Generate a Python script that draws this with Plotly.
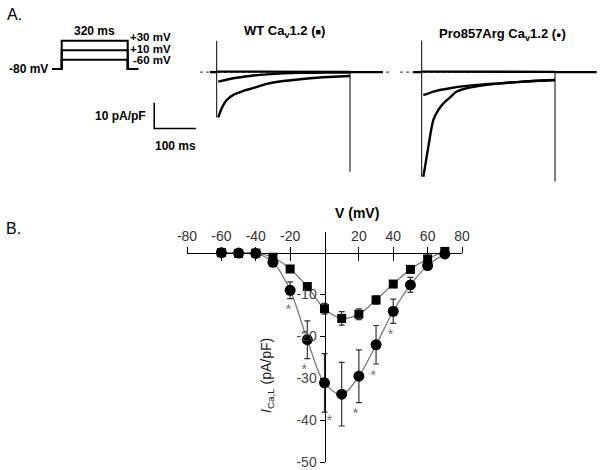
import plotly.graph_objects as go

# ---------------- data ----------------
# Panel B: I-V relationship
V = [-60, -50, -40, -30, -20, -10, 0, 10, 20, 30, 40, 50, 60, 70]
wt_I = [0.0, -0.2, -0.1, -1.1, -3.9, -8.1, -13.4, -15.7, -14.7, -11.3, -7.5, -4.0, -1.5, 0.3]
wt_err = [0.8, 0.3, 0.3, 0.5, 0.6, 0.8, 1.3, 1.6, 1.3, 1.0, 0.8, 0.6, 0.6, 0.4]
mut_I = [0.0, -0.1, -0.2, -2.3, -9.0, -20.8, -31.1, -33.8, -29.5, -22.0, -14.0, -7.7, -3.1, -0.3]
mut_err = [0.3, 0.3, 0.4, 0.8, 2.0, 4.5, 7.0, 7.6, 6.3, 4.6, 2.9, 1.8, 0.8, 0.4]
star_x = [-21, -11.8, 2.9, 18, 28.3, 38.4]
star_y = [-13.8, -28.1, -40.4, -38.6, -29.7, -19.7]
x_ticks = [-80, -60, -40, -20, 20, 40, 60, 80]
y_ticks = [-10, -20, -30, -40, -50]

# Panel A: voltage protocol (schematic levels)
levels = ["-80 mV", "-60 mV", "+10 mV", "+30 mV"]
step_levels = ["-60 mV", "+10 mV", "+30 mV"]
prot_t = [-47, 0, 0, 320, 320, 51 + 320]
pulse_ms = 320

# Panel A: WT current traces (ms, pA/pF)
wt_pre_t, wt_pre_I = [-16, 0], [0, 0]
wt_post_t, wt_post_I = [320, 399], [0, 0]
wt_big_t = [3.8, 12, 24, 40, 64, 80, 120, 160, 200, 240, 280, 320]
wt_big_I = [-17.7, -14.1, -10.9, -8.9, -7.3, -6.6, -4.6, -3.5, -2.8, -2.2, -1.8, -1.5]
wt_small_t = [3.8, 40, 80, 120, 160, 200, 260, 320]
wt_small_I = [-3.7, -2.4, -1.5, -0.9, -0.5, -0.3, -0.2, -0.2]
wt_flat_t, wt_flat_I = [0, 320], [0.2, 0.1]
wt_on_art = [12.2, -17.7]
wt_tail_art = [0, -38.9]
wt_base_t = [-40, 419]

# Panel A: Pro857Arg current traces
mut_pre_t, mut_pre_I = [-20, 0], [0, 0]
mut_post_t, mut_post_I = [320, 420], [0, 0]
mut_big_t = [3.8, 8, 16, 28, 40, 52, 68, 84, 108, 156, 188, 228, 268, 320]
mut_big_I = [-40.9, -37.0, -29.1, -18.7, -14.8, -12.2, -9.9, -7.6, -6.3, -5.0, -4.4, -3.9, -3.5, -3.1]
mut_small_t = [3.8, 10, 28, 68, 108, 148, 188, 228, 268, 320]
mut_small_I = [-8.9, -8.7, -7.6, -6.3, -5.4, -4.8, -4.4, -3.9, -3.5, -3.1]
mut_flat_t, mut_flat_I = [0, 320], [0.2, 0.1]
mut_on_art = [12.3, -40.9]
mut_tail_art = [0, -42.8]
mut_base_t = [-52, 420]

# scale bar (100 ms, 10 pA/pF)
sb_t0, sb_len_t = -150, 100
sb_I0, sb_len_I = -12, 10

# ---------------- layout helpers ----------------
W, H = 602, 470
def fx(px):
    return px / W
def fy(py):
    return 1 - py / H

FONT = "Liberation Sans, Arial, sans-serif"
K = 0.41667   # px per ms for traces
KI = 2.56     # px per pA/pF for traces

fig = go.Figure()

# ---- Panel B ----
line_col = "#7a7a7a"
fig.add_trace(go.Scatter(x=V, y=wt_I, mode="lines", line=dict(shape="spline", color=line_col, width=1.3),
                         xaxis="x", yaxis="y", hoverinfo="skip"))
fig.add_trace(go.Scatter(x=V, y=mut_I, mode="lines", line=dict(shape="spline", color=line_col, width=1.3),
                         xaxis="x", yaxis="y", hoverinfo="skip"))
fig.add_trace(go.Scatter(x=V, y=wt_I, mode="markers",
                         marker=dict(symbol="square", size=9, color="black"),
                         error_y=dict(type="data", array=wt_err, color="#333", thickness=1.2, width=3),
                         xaxis="x", yaxis="y", cliponaxis=False))
fig.add_trace(go.Scatter(x=V, y=mut_I, mode="markers",
                         marker=dict(symbol="circle", size=11, color="black"),
                         error_y=dict(type="data", array=mut_err, color="#333", thickness=1.2, width=3),
                         xaxis="x", yaxis="y", cliponaxis=False))
fig.add_trace(go.Scatter(x=star_x, y=star_y, mode="text", text=["*"] * len(star_x),
                         textfont=dict(size=14, color="#707070", family=FONT),
                         xaxis="x", yaxis="y", cliponaxis=False))
fig.add_trace(go.Scatter(x=[0], y=[0], mode="markers", marker=dict(opacity=0),
                         xaxis="x2", yaxis="y", hoverinfo="skip"))

# ---- Panel A: protocol ----
for lv in step_levels:
    fig.add_trace(go.Scatter(x=prot_t, y=[levels[0], levels[0], lv, lv, levels[0], levels[0]],
                             mode="lines", line=dict(color="black", width=2),
                             xaxis="x3", yaxis="y3", hoverinfo="skip"))

# ---- Panel A: traces ----
def trace(t, I, xa, width=2.4, dash=None, color="black", shape="spline"):
    fig.add_trace(go.Scatter(x=t, y=I, mode="lines",
                             line=dict(color=color, width=width, dash=dash, shape=shape, smoothing=0.8),
                             xaxis=xa, yaxis="y4", hoverinfo="skip"))

# dotted baselines
trace(wt_base_t, [0, 0], "x4", width=1, dash="dot", color="#222", shape="linear")
trace(mut_base_t, [0, 0], "x5", width=1, dash="dot", color="#222", shape="linear")
# WT
trace(wt_pre_t, wt_pre_I, "x4")
trace(wt_flat_t, wt_flat_I, "x4")
trace(wt_small_t, wt_small_I, "x4")
trace(wt_big_t, wt_big_I, "x4")
trace(wt_post_t, wt_post_I, "x4")
trace([0, 0], wt_on_art, "x4", width=1, shape="linear")
trace([pulse_ms, pulse_ms], wt_tail_art, "x4", width=1, shape="linear")
# mutant
trace(mut_pre_t, mut_pre_I, "x5")
trace(mut_flat_t, mut_flat_I, "x5")
trace(mut_small_t, mut_small_I, "x5")
trace(mut_big_t, mut_big_I, "x5")
trace(mut_post_t, mut_post_I, "x5")
trace([0, 0], mut_on_art, "x5", width=1, shape="linear")
trace([pulse_ms, pulse_ms], mut_tail_art, "x5", width=1, shape="linear")
# scale bar
trace([sb_t0, sb_t0, sb_t0 + sb_len_t], [sb_I0, sb_I0 - sb_len_I, sb_I0 - sb_len_I], "x4",
      width=1.5, shape="linear")

ann = []
def A(text, x, y, xref="paper", yref="paper", size=12, bold=True, xanchor="center", yanchor="middle",
      xshift=0, yshift=0, color="black", angle=0):
    ann.append(dict(text=("<b>%s</b>" % text) if bold else text, x=x, y=y, xref=xref, yref=yref,
                    showarrow=False, xanchor=xanchor, yanchor=yanchor, xshift=xshift, yshift=yshift,
                    font=dict(size=size, color=color, family=FONT), textangle=angle))

A("A.", fx(5), fy(15), size=16, bold=False, xanchor="left")
A("B.", fx(4), fy(228), size=16, bold=False, xanchor="left")
A("320 ms", pulse_ms / 2, "+30 mV", xref="x3", yref="y3", yanchor="bottom", yshift=1)
for lv, ys in zip(step_levels, [-0.5, 1, 4]):
    A(lv, fx(173.5), lv, yref="y3", xanchor="right", yshift=ys, size=11.5)
A("-80 mV", prot_t[0], levels[0], xref="x3", yref="y3", xanchor="right", xshift=-2)
A("10 pA/pF", sb_t0, sb_I0 - sb_len_I / 2, xref="x4", yref="y4", xanchor="right", xshift=-6)
A("100 ms", sb_t0 + sb_len_t / 2, sb_I0 - sb_len_I, xref="x4", yref="y4", yanchor="top", yshift=-9)
A('WT Ca<sub>v</sub>1.2 (<span style="font-size:9px">■</span>)', fx(284), fy(32), size=13)
A('Pro857Arg Ca<sub>v</sub>1.2 (<span style="font-size:9px">●</span>)', fx(502), fy(34), size=13)
A("V (mV)", fx(357), fy(213), size=14)
A("<i>I</i><sub>Ca,L</sub> (pA/pF)", fx(267), fy(376), size=14, bold=False, color="#222", angle=-90)

tick_font = dict(size=14, color="#333", family=FONT)
x0_line = fy(252.6)
fig.update_layout(
    width=W, height=H, margin=dict(l=0, r=0, t=0, b=0, pad=0, autoexpand=False),
    paper_bgcolor="white", plot_bgcolor="rgba(0,0,0,0)", showlegend=False,
    annotations=ann,
    xaxis=dict(domain=[fx(187), fx(462)], range=[-80, 80], anchor="free", position=x0_line, side="top",
               showline=True, linecolor="black", linewidth=1, ticks="outside", ticklen=6, tickcolor="black",
               tickvals=x_ticks, ticktext=[str(v) for v in x_ticks], tickfont=tick_font,
               showgrid=False, zeroline=False, automargin=False),
    xaxis2=dict(overlaying="x", range=[-80, 80], anchor="free", position=x0_line, side="top",
                showline=False, ticks="inside", ticklen=7, tickcolor="black", tickvals=x_ticks,
                showticklabels=False, showgrid=False, zeroline=False, automargin=False),
    yaxis=dict(domain=[fy(462), fy(231.7)], range=[-50, 5], anchor="free", position=fx(324.5),
               showline=True, linecolor="black", linewidth=1, ticks="outside", ticklen=5, tickcolor="black",
               tickvals=y_ticks, ticktext=[str(v) for v in y_ticks], tickfont=dict(size=14, color="#444", family=FONT),
               showgrid=False, zeroline=False, automargin=False),
    xaxis3=dict(domain=[fx(40), fx(145)], range=[(40 - 61.7) / 0.20625, (145 - 61.7) / 0.20625],
                anchor="y3", visible=False),
    yaxis3=dict(domain=[fy(80), fy(30)], type="category", categoryorder="array", categoryarray=levels,
                range=[(69.1 - 80) / 9.43, (69.1 - 30) / 9.43], anchor="x3", visible=False),
    xaxis4=dict(domain=[fx(150), fx(395)], range=[(150 - 216.7) / K, (395 - 216.7) / K],
                anchor="y4", visible=False),
    xaxis5=dict(domain=[fx(400), fx(600)], range=[(400 - 421.7) / K, (600 - 421.7) / K],
                anchor="y4", visible=False),
    yaxis4=dict(domain=[fy(185), fy(38)], range=[(72.1 - 185) / KI, (72.1 - 38) / KI],
                anchor="x4", visible=False),
)

fig.write_html("out.html", config={"displayModeBar": False},
               post_script="document.body.style.margin='0';document.body.style.padding='0';")
